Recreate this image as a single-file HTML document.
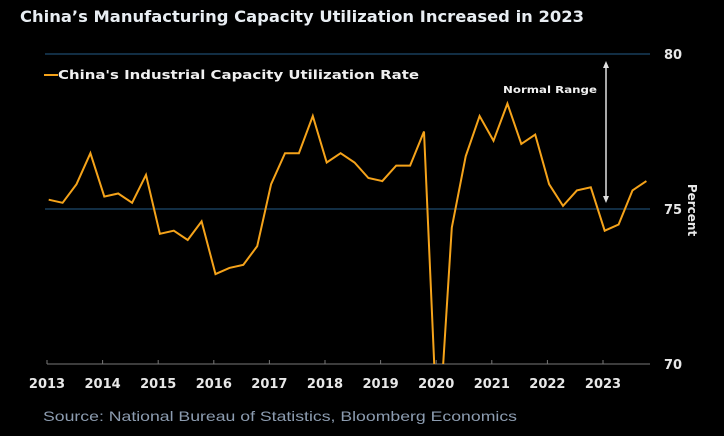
<!DOCTYPE html>
<html><head><meta charset="utf-8">
<style>
html,body{margin:0;padding:0;background:#000;}
svg{display:block;}
</style></head>
<body>
<svg width="724" height="436" viewBox="0 0 724 436" xmlns="http://www.w3.org/2000/svg">
<rect width="724" height="436" fill="#000"/>
<text x="20" y="22" fill="#e8edf2" font-family="DejaVu Sans, Liberation Sans, sans-serif" font-size="16" font-weight="bold" textLength="564" lengthAdjust="spacingAndGlyphs">China’s Manufacturing Capacity Utilization Increased in 2023</text>
<g id="plot"></g>
<g>
<line x1="44" y1="75" x2="58" y2="75" stroke="#f5a31a" stroke-width="2"/>
<text x="58" y="79" fill="#f0f0f0" font-family="DejaVu Sans, Liberation Sans, sans-serif" font-size="12.5" font-weight="bold" textLength="361" lengthAdjust="spacingAndGlyphs">China's Industrial Capacity Utilization Rate</text>
</g>
<g>
<text x="503" y="93" fill="#f0f0f0" font-family="DejaVu Sans, Liberation Sans, sans-serif" font-size="10" font-weight="bold" textLength="94" lengthAdjust="spacingAndGlyphs">Normal Range</text>
<line x1="606" y1="66" x2="606" y2="198" stroke="#e0e0e0" stroke-width="1.5"/>
<polygon points="606,61 603,68 609,68" fill="#e0e0e0"/>
<polygon points="606,203 603,196 609,196" fill="#e0e0e0"/>
</g>
<text transform="translate(688,210) rotate(90)" text-anchor="middle" fill="#e8e8e8" font-family="DejaVu Sans, Liberation Sans, sans-serif" font-size="12" font-weight="bold">Percent</text>
<text x="43" y="421" fill="#8c9cb0" font-family="Liberation Sans Narrow, Liberation Sans, sans-serif" font-size="14" textLength="474" lengthAdjust="spacingAndGlyphs">Source: National Bureau of Statistics, Bloomberg Economics</text>
<defs><clipPath id="clip"><rect x="40" y="40" width="620" height="324"/></clipPath></defs>
</svg>
<script>
const years = [2013,2014,2015,2016,2017,2018,2019,2020,2021,2022,2023];
const yTicks = [70,75,80];
const values = [75.3,75.2,75.8,76.8, 75.4,75.5,75.2,76.1, 74.2,74.3,74.0,74.6, 72.9,73.1,73.2,73.8,
  75.8,76.8,76.8,78.0, 76.5,76.8,76.5,76.0, 75.9,76.4,76.4,77.5, 67.3,74.4,76.7,78.0,
  77.2,78.4,77.1,77.4, 75.8,75.1,75.6,75.7, 74.3,74.5,75.6,75.9];
const startYear = 2013;
const NS='http://www.w3.org/2000/svg';
const svg=document.querySelector('svg');
const plot=document.getElementById('plot');
function X(t){return 47+(t-2013)*55.6;}
function Y(v){return 364-(v-70)*31;}
function mk(tag,attrs,parent){const e=document.createElementNS(NS,tag);for(const k in attrs)e.setAttribute(k,attrs[k]);(parent||plot).appendChild(e);return e;}
// gridlines
yTicks.forEach(v=>{
  if(v!==70){
    const g=mk('line',{x1:45,x2:650,y1:Y(v),y2:Y(v),stroke:'#1e4a6e','stroke-width':1.3});
    
    
  }
  const t=mk('text',{x:664,y:Y(v)+5,fill:'#e8e8e8','font-family':'DejaVu Sans, Liberation Sans, sans-serif','font-size':13,'font-weight':'bold'});
  t.textContent=v;
  
  
});
// x axis
const ax=mk('line',{x1:47,x2:650,y1:364,y2:364,stroke:'#777','stroke-width':1});


years.forEach(yr=>{
  mk('line',{x1:X(yr),x2:X(yr),y1:360,y2:364,stroke:'#777','stroke-width':1});
  const t=mk('text',{x:X(yr),y:388,'text-anchor':'middle',fill:'#e8e8e8','font-family':'DejaVu Sans, Liberation Sans, sans-serif','font-size':13,'font-weight':'bold'});
  t.textContent=yr;
  
  
});
// series
const pts=values.map((v,i)=>X(startYear+i*0.25+0.03).toFixed(1)+','+Y(v).toFixed(1)).join(' ');
const pl=mk('polyline',{points:pts,fill:'none',stroke:'#f5a31a','stroke-width':2,'stroke-linejoin':'miter','clip-path':'url(#clip)'});


</script>
</body></html>
